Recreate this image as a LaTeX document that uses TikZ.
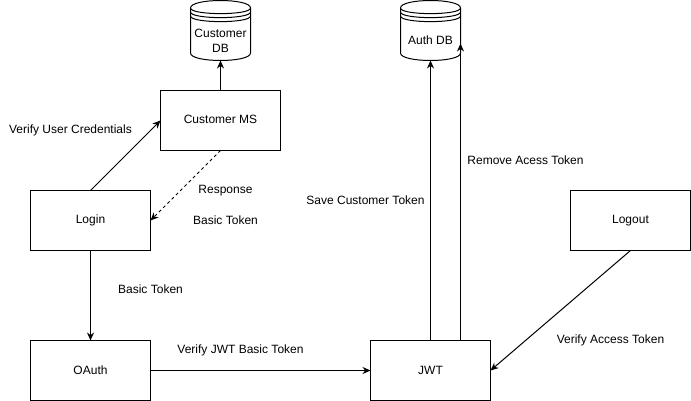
\documentclass[tikz,border=0pt]{standalone}
\usepackage{fontspec}
\setmainfont{Liberation Sans}
\usetikzlibrary{arrows.meta}
\tikzset{
  boxnode/.style={draw,line width=1pt,minimum width=120pt,minimum height=60pt,inner sep=0pt,outer sep=0pt,font=\fontsize{12}{15}\selectfont},
  dbnode/.style={minimum width=60pt,minimum height=60pt,inner sep=0pt,outer sep=0pt,align=center,font=\fontsize{12}{14}\selectfont},
  lbl/.style={inner sep=0pt,outer sep=0pt,font=\fontsize{12}{15}\selectfont},
  conn/.style={line width=1pt,-{Stealth[length=8pt,width=7pt]}},
}
\newcommand{\drumshape}[1]{
  \begin{scope}[shift={(#1.north west)},line width=1pt]
  \draw (0,7.5) .. controls (0,-2.5) and (60,-2.5) .. (60,7.5) -- (60,52.5) .. controls (60,62.5) and (0,62.5) .. (0,52.5) -- cycle;
  \draw (0,7.5) .. controls (0,15) and (60,15) .. (60,7.5);
  \draw (0,11.5) .. controls (0,19) and (60,19) .. (60,11.5);
  \draw (0,15.5) .. controls (0,23) and (60,23) .. (60,15.5);
  \end{scope}
}
\begin{document}
\begin{tikzpicture}[x=1pt,y=-1pt]
\path[use as bounding box,fill=white] (-0.5,-0.5) rectangle (690.5,400.5);

\node[boxnode] (custms) at (220,120) {};
\node[lbl] at (220,119) {Customer MS};
\node[boxnode] (login) at (90,220) {Login};
\node[boxnode] (oauth) at (90,370) {OAuth};
\node[boxnode] (jwt) at (430,370) {JWT};
\node[boxnode] (logout) at (630,220) {Logout};

\node[dbnode] (custdb) at (220,30) {};
\node[lbl,align=center] at (220,40) {Customer\\DB};
\node[dbnode] (authdb) at (430,30) {};
\node[lbl] at (430,40) {Auth DB};
\drumshape{custdb}
\drumshape{authdb}

\coordinate (jwtout) at (460,340);
\coordinate (authin) at (460,43);

\draw[conn] (custms.north) -- (custdb.south);
\draw[conn] (login.north) -- (custms.west);
\draw[conn,dashed,dash pattern=on 3pt off 3pt] (custms.south) -- (login.east);
\draw[conn] (login.south) -- (oauth.north);
\draw[conn] (oauth.east) -- (jwt.west);
\draw[conn] (jwt.north) -- (authdb.south);
\draw[conn] (jwtout) -- (authin);
\draw[conn] (logout.south) -- (jwt.east);

\node[lbl] at (70,130) {Verify User Credentials};
\node[lbl] at (225,190) {Response};
\node[lbl] at (225,220) {Basic Token};
\node[lbl] at (150,289) {Basic Token};
\node[lbl] at (240,350) {Verify JWT Basic Token};
\node[lbl] at (365,200) {Save Customer Token};
\node[lbl] at (525,160) {Remove Acess Token};
\node[lbl] at (610,340) {Verify Access Token};
\end{tikzpicture}
\end{document}
